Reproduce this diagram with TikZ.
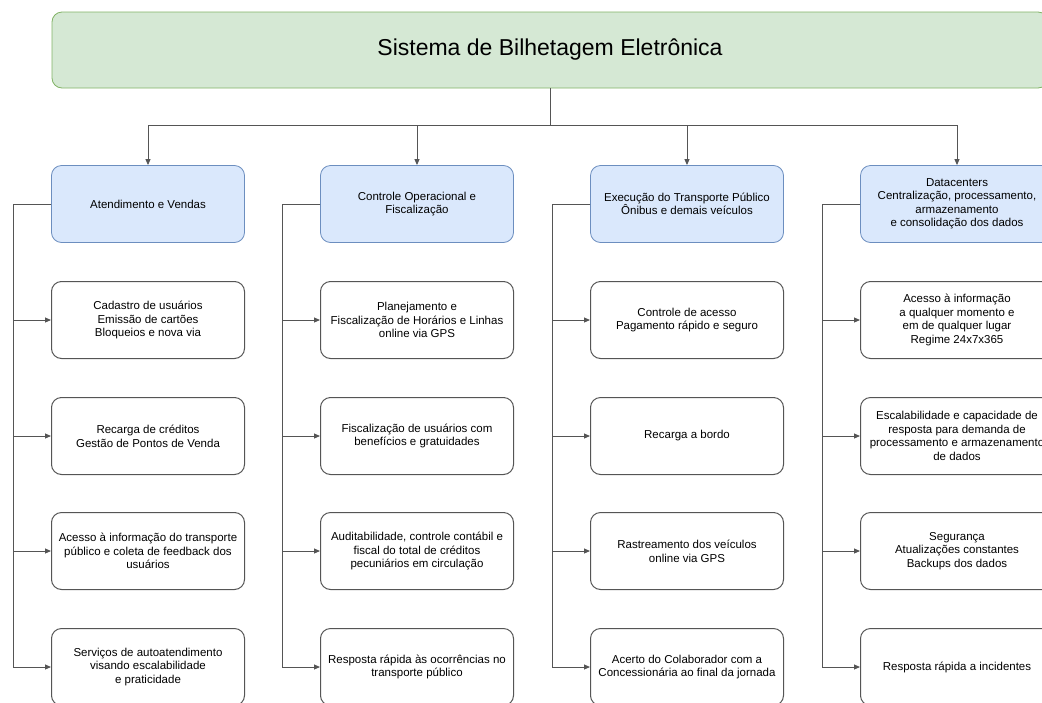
\documentclass[tikz,border=0pt]{standalone}
\usepackage{fontspec}
\setmainfont{Liberation Sans}
\usetikzlibrary{arrows.meta}

\definecolor{topfill}{HTML}{D5E8D4}
\definecolor{topline}{HTML}{82B366}
\definecolor{headfill}{HTML}{DAE8FC}
\definecolor{headline}{HTML}{6C8EBF}
\definecolor{edgegray}{HTML}{555555}

\tikzset{
	topbox/.style={draw=topline, fill=topfill, rounded corners=10pt, line width=0.8pt,
		minimum width=996pt, minimum height=76pt, font=\fontsize{23}{27}\selectfont},
	headbox/.style={draw=headline, fill=headfill, rounded corners=10pt, line width=0.8pt,
		minimum width=193pt, minimum height=77pt, align=center, inner sep=1pt,
		font=\fontsize{11.5}{13.5}\selectfont},
	itembox/.style={draw=edgegray, fill=white, rounded corners=10pt, line width=1pt,
		minimum width=193pt, minimum height=77pt, align=center, inner sep=1pt,
		font=\fontsize{11.5}{13.7}\selectfont},
	link/.style={draw=edgegray, line width=0.9pt, -{Triangle[length=6pt,width=5pt]}}
}

\begin{document}
\begin{tikzpicture}[x=1pt, y=-1pt]

\clip (0,0) rectangle (1042,702);

% NODES
\node[topbox](top) at(550, 50) {Sistema de Bilhetagem Eletrônica};

\node[headbox](h1) at(148, 204) {Atendimento e Vendas};
\node[headbox](h2) at(417, 204) {Controle Operacional e\\Fiscalização};
\node[headbox](h3) at(687, 204) {Execução do Transporte Público\\Ônibus e demais veículos};
\node[headbox](h4) at(957, 204) {Datacenters\\Centralização, processamento,\\armazenamento\\e consolidação dos dados};

% column 1
\node[itembox](b11) at(148, 320) {Cadastro de usuários\\Emissão de cartões\\Bloqueios e nova via};
\node[itembox](b12) at(148, 436) {Recarga de créditos\\Gestão de Pontos de Venda};
\node[itembox](b13) at(148, 551) {Acesso à informação do transporte\\público e coleta de feedback dos\\usuários};
\node[itembox](b14) at(148, 667) {Serviços de autoatendimento\\visando escalabilidade\\e praticidade};

% column 2
\node[itembox](b21) at(417, 320) {Planejamento e\\Fiscalização de Horários e Linhas\\online via GPS};
\node[itembox](b22) at(417, 436) {Fiscalização de usuários com\\benefícios e gratuidades};
\node[itembox](b23) at(417, 551) {Auditabilidade, controle contábil e\\fiscal do total de créditos\\pecuniários em circulação};
\node[itembox](b24) at(417, 667) {Resposta rápida às ocorrências no\\transporte público};

% column 3
\node[itembox](b31) at(687, 320) {Controle de acesso\\Pagamento rápido e seguro};
\node[itembox](b32) at(687, 436) {Recarga a bordo};
\node[itembox](b33) at(687, 551) {Rastreamento dos veículos\\online via GPS};
\node[itembox](b34) at(687, 667) {Acerto do Colaborador com a\\Concessionária ao final da jornada};

% column 4
\node[itembox](b41) at(957, 320) {Acesso à informação\\a qualquer momento e\\em de qualquer lugar\\Regime 24x7x365};
\node[itembox](b42) at(957, 436) {Escalabilidade e capacidade de\\resposta para demanda de\\processamento e armazenamento\\de dados};
\node[itembox](b43) at(957, 551) {Segurança\\Atualizações constantes\\Backups dos dados};
\node[itembox](b44) at(957, 667) {Resposta rápida a incidentes};

% ARCS
\foreach \c in{1,...,4}{
	\draw[link] (top.south) -- ++(0,37) -| (h\c.north);
}

\foreach \c in{1,...,4}{
	\foreach \r in{1,...,4}{
		\draw[link] (h\c.west) -- ++(-38,0) |- (b\c\r.west);
	}
}

\end{tikzpicture}
\end{document}
